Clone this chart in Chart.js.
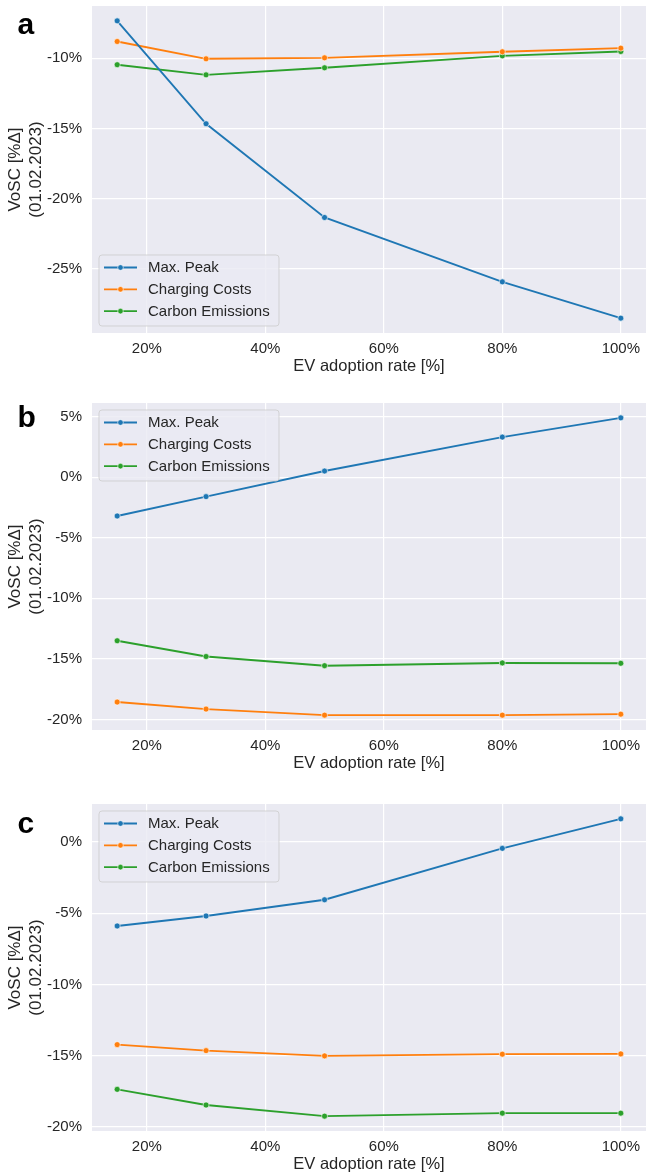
<!DOCTYPE html>
<html>
<head>
<meta charset="utf-8">
<script src="https://cdn.jsdelivr.net/npm/chart.js@4.4.1/dist/chart.umd.min.js"></script>
<style>
  html, body { margin: 0; padding: 0; background: #ffffff; }
  #wrap { position: relative; width: 646px; height: 1175px; overflow: hidden; }
  .panel { position: absolute; left: 0; width: 646px; }
</style>
</head>
<body>
<div id="wrap">
  <div class="panel" style="top:0px;height:388px"><canvas id="chartA"></canvas></div>
  <div class="panel" style="top:388px;height:402px"><canvas id="chartB"></canvas></div>
  <div class="panel" style="top:790px;height:385px"><canvas id="chartC"></canvas></div>
</div>
<script>
// EV adoption rates (x values, %)
const adoptionRates = [15, 30, 50, 80, 100];
const seriesNames = ['Max. Peak', 'Charging Costs', 'Carbon Emissions'];
const seriesColors = ['#1f77b4', '#ff7f0e', '#2ca02c'];

// Panel a – VoSC [%Δ]
const peakA   = [-7.35, -14.67, -21.34, -25.92, -28.50];
const costA   = [-8.82, -10.05,  -9.98,  -9.55,  -9.29];
const carbonA = [-10.47, -11.19, -10.69, -9.84,  -9.53];

// Panel b
const peakB   = [-3.20, -1.60,  0.51,  3.31,  4.90];
const costB   = [-18.56, -19.14, -19.64, -19.64, -19.56];
const carbonB = [-13.50, -14.80, -15.56, -15.33, -15.36];

// Panel c
const peakC   = [-5.90, -5.20, -4.06, -0.45,  1.62];
const costC   = [-14.23, -14.65, -15.02, -14.90, -14.88];
const carbonC = [-17.37, -18.47, -19.25, -19.04, -19.04];

// Tick labels
const xTicks  = [20, 40, 60, 80, 100];
const yTicksA = [-25, -20, -15, -10];
const yTicksB = [-20, -15, -10, -5, 0, 5];
const yTicksC = [-20, -15, -10, -5, 0];

const xTitle = 'EV adoption rate [%]';
const yTitle = ['VoSC [%Δ]', '(01.02.2023)'];

const FONT = '"Liberation Sans", Arial, Helvetica, sans-serif';
const TEXT = '#262626';

// 5 % margins around the data, like matplotlib's autoscale
function padded(values) {
  const lo = Math.min(...values), hi = Math.max(...values);
  const m = (hi - lo) * 0.05;
  return [lo - m, hi + m];
}

// Axis boxes get fixed sizes and no extra label overhang padding
function fixBox(size, horizontal) {
  return s => {
    if (horizontal) s.height = size; else s.width = size;
    s.paddingTop = 0; s.paddingBottom = 0; s.paddingLeft = 0; s.paddingRight = 0;
  };
}

// Axes background
const facePlugin = {
  id: 'face',
  beforeDraw(chart) {
    const { ctx, chartArea: a } = chart;
    ctx.save();
    ctx.fillStyle = '#eaeaf2';
    ctx.fillRect(a.left, a.top, a.right - a.left, a.bottom - a.top);
    ctx.restore();
  }
};

// Legend box inside the axes and the panel letter
const decorPlugin = {
  id: 'decor',
  afterDatasetsDraw(chart, args, opts) {
    const { ctx, chartArea: a } = chart;
    const w = 180, h = 71;
    const x0 = a.left + 7;
    const y0 = opts.where === 'lower' ? a.bottom - 7 - h : a.top + 7;
    ctx.save();
    // frame
    const r = 3;
    ctx.beginPath();
    ctx.moveTo(x0 + r, y0);
    ctx.arcTo(x0 + w, y0, x0 + w, y0 + h, r);
    ctx.arcTo(x0 + w, y0 + h, x0, y0 + h, r);
    ctx.arcTo(x0, y0 + h, x0, y0, r);
    ctx.arcTo(x0, y0, x0 + w, y0, r);
    ctx.closePath();
    ctx.fillStyle = 'rgba(234,234,242,0.8)';
    ctx.fill();
    ctx.strokeStyle = 'rgba(204,204,204,0.8)';
    ctx.lineWidth = 1;
    ctx.stroke();
    // entries
    chart.data.datasets.forEach((ds, i) => {
      const cy = y0 + 12.5 + i * 21.8;
      ctx.strokeStyle = ds.borderColor;
      ctx.lineWidth = 1.8;
      ctx.beginPath();
      ctx.moveTo(x0 + 5, cy);
      ctx.lineTo(x0 + 38, cy);
      ctx.stroke();
      ctx.beginPath();
      ctx.arc(x0 + 21.5, cy, 2.8, 0, Math.PI * 2);
      ctx.fillStyle = ds.borderColor;
      ctx.fill();
      ctx.strokeStyle = '#ffffff';
      ctx.lineWidth = 0.6;
      ctx.stroke();
      ctx.fillStyle = TEXT;
      ctx.font = '15px ' + FONT;
      ctx.textBaseline = 'middle';
      ctx.textAlign = 'left';
      ctx.fillText(ds.label, x0 + 49, cy + 0.5);
    });
    // panel letter
    ctx.fillStyle = '#000000';
    ctx.font = 'bold 30px ' + FONT;
    ctx.textBaseline = 'alphabetic';
    ctx.textAlign = 'left';
    ctx.fillText(opts.letter, 17.5, opts.letterY);
    ctx.restore();
  }
};

function makeChart(id, peak, cost, carbon, yTicks, conf) {
  const [yMin, yMax] = padded([...peak, ...cost, ...carbon]);
  const [xMin, xMax] = padded(adoptionRates);
  const series = [peak, cost, carbon];
  const datasets = series.map((vals, i) => ({
    label: seriesNames[i],
    data: adoptionRates.map((x, k) => ({ x: x, y: vals[k] })),
    borderColor: seriesColors[i],
    backgroundColor: seriesColors[i],
    pointBackgroundColor: seriesColors[i],
    pointBorderColor: '#ffffff',
    pointBorderWidth: 0.6,
    pointRadius: 3,
    borderWidth: 1.9,
    tension: 0,
    fill: false,
    clip: 6
  }));
  const grid = { color: '#ffffff', lineWidth: 1.2, drawTicks: false };
  return new Chart(document.getElementById(id), {
    type: 'line',
    data: { datasets },
    plugins: [facePlugin, decorPlugin],
    options: {
      responsive: true,
      maintainAspectRatio: false,
      animation: false,
      layout: { autoPadding: false, padding: { top: conf.top, bottom: conf.bottom, left: 0, right: 0 } },
      plugins: {
        legend: { display: false },
        tooltip: { enabled: false },
        decor: { where: conf.legend, letter: conf.letter, letterY: conf.letterY }
      },
      scales: {
        x: {
          type: 'linear',
          min: xMin, max: xMax,
          afterBuildTicks: s => { s.ticks = xTicks.map(v => ({ value: v })); },
          afterFit: fixBox(43.6, true),
          grid: grid,
          border: { display: false },
          ticks: { callback: v => v + '%', color: TEXT, font: { family: FONT, size: 15 }, padding: 7, maxRotation: 0 },
          title: { display: true, text: xTitle, color: TEXT, font: { family: FONT, size: 16.5 }, padding: 0 }
        },
        y: {
          type: 'linear',
          min: yMin, max: yMax,
          afterBuildTicks: s => { s.ticks = yTicks.map(v => ({ value: v })); },
          afterFit: fixBox(92, false),
          grid: grid,
          border: { display: false },
          ticks: { callback: v => v + '%', color: TEXT, font: { family: FONT, size: 15 }, padding: 10 },
          title: { display: true, text: yTitle, color: TEXT, font: { family: FONT, size: 17, lineHeight: 1.23 }, padding: { top: 4.5, bottom: 0 } }
        }
      }
    }
  });
}

makeChart('chartA', peakA, costA, carbonA, yTicksA, { top: 6,  bottom: 11.4, legend: 'lower', letter: 'a', letterY: 34 });
makeChart('chartB', peakB, costB, carbonB, yTicksB, { top: 15, bottom: 16.4, legend: 'upper', letter: 'b', letterY: 39.4 });
makeChart('chartC', peakC, costC, carbonC, yTicksC, { top: 14, bottom: 0.4,  legend: 'upper', letter: 'c', letterY: 43 });
</script>
</body>
</html>
